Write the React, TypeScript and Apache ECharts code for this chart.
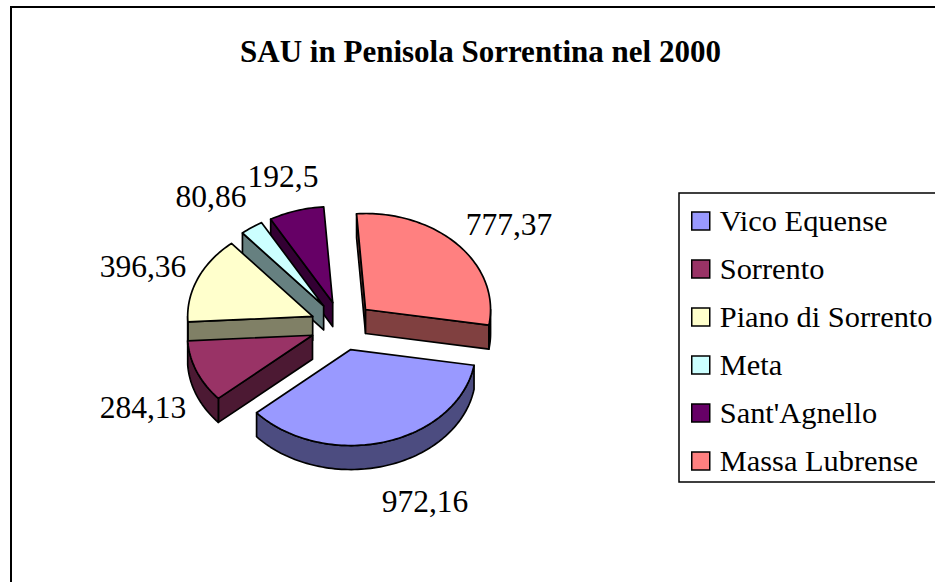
import React, { useEffect, useRef } from "react";
import * as echarts from "echarts";

const title = "SAU in Penisola Sorrentina nel 2000";
const categories = ["Vico Equense", "Sorrento", "Piano di Sorrento", "Meta", "Sant'Agnello", "Massa Lubrense"];
const values = [972.16, 284.13, 396.36, 80.86, 192.5, 777.37];
const valueLabels = ["972,16", "284,13", "396,36", "80,86", "192,5", "777,37"];
const colors = ["#9999FF", "#993366", "#FFFFCC", "#CCFFFF", "#660066", "#FF8080"];
const wallColors = ["#4C4C80", "#4C1933", "#808066", "#668080", "#330033", "#804040"];
const drawOrder = [4, 3, 2, 1, 5, 0];

const CX = 342, CY = 326, RX = 125, RY = 96, DEPTH = 24, EXPLODE = 0.255, START = 99.4;
const FONT = "'Liberation Serif', 'Times New Roman', serif";
const labelCentres: [number, number][] = [[425, 501], [143, 407], [143, 266], [211, 196], [283, 176], [509, 224]];

const total = values.reduce((a, b) => a + b, 0);
const rad = (d: number) => (d * Math.PI) / 180;
const angles = (() => {
  let s = START;
  return values.map((v) => {
    const e = s + (v / total) * 360;
    const r = [s, e];
    s = e;
    return r;
  });
})();

function sliceElements(i: number) {
  const [a0, a1] = angles[i];
  const mid = (a0 + a1) / 2;
  const ax = CX + EXPLODE * RX * Math.sin(rad(mid));
  const ay = CY - EXPLODE * RY * Math.cos(rad(mid));
  const rim = (a: number): [number, number] => [ax + RX * Math.sin(rad(a)), ay - RY * Math.cos(rad(a))];
  const down = (p: [number, number]): [number, number] => [p[0], p[1] + DEPTH];
  const arc = (f: number, t: number) => {
    const n = Math.max(1, Math.ceil((t - f) / 1.5));
    const pts: [number, number][] = [];
    for (let k = 0; k <= n; k++) pts.push(rim(f + ((t - f) * k) / n));
    return pts;
  };
  const stroke = { stroke: "#000", lineWidth: 1.7, lineJoin: "round" };
  const children: any[] = [];
  const m = rim(mid);
  const apex: [number, number] = [ax, ay];
  for (const a of [a0, a1]) {
    const r = rim(a);
    const ex = r[0] - ax, ey = r[1] - ay;
    const crossDown = ex;
    const crossMid = ex * (m[1] - ay) - ey * (m[0] - ax);
    if (crossDown * crossMid < 0) {
      children.push({
        type: "polygon",
        shape: { points: [apex, r, down(r), down(apex)] },
        style: { fill: wallColors[i], ...stroke },
      });
    }
  }
  for (const base of [0, 360]) {
    const f = Math.max(a0, 90 + base), t = Math.min(a1, 270 + base);
    if (t > f) {
      const top = arc(f, t);
      children.push({
        type: "polygon",
        shape: { points: [...top, ...top.slice().reverse().map(down)] },
        style: { fill: wallColors[i], ...stroke },
      });
    }
  }
  children.push({
    type: "polygon",
    shape: { points: [apex, ...arc(a0, a1)] },
    style: { fill: colors[i], ...stroke },
  });
  children.push({
    type: "text",
    style: {
      x: labelCentres[i][0],
      y: labelCentres[i][1],
      text: valueLabels[i],
      fill: "#000",
      font: `31.5px ${FONT}`,
      align: "center",
      verticalAlign: "middle",
    },
  });
  return { type: "group", children };
}

export default function App() {
  const ref = useRef<HTMLDivElement>(null);
  useEffect(() => {
    document.body.style.margin = "0";
    const chart = echarts.init(ref.current!, undefined, { renderer: "svg" });
    chart.setOption({
      animation: false,
      backgroundColor: "#fff",
      title: {
        text: title,
        left: 475.5,
        top: 31,
        textAlign: "center",
        textStyle: { fontFamily: FONT, fontWeight: "bold", fontSize: 31, color: "#000" },
      },
      legend: {
        data: categories.map((name, i) => ({ name, itemStyle: { color: colors[i] } })),
        orient: "vertical",
        left: 691,
        top: 205,
        padding: 0,
        selectedMode: false,
        icon: "rect",
        itemWidth: 18,
        itemHeight: 18,
        itemGap: 16,
        itemStyle: { borderColor: "#000", borderWidth: 1.5 },
        textStyle: { fontFamily: FONT, fontSize: 30.4, color: "#000", padding: [0, 0, 0, 5], height: 32, lineHeight: 32 },
      },
      graphic: [
        { type: "rect", z: -1, shape: { x: 11, y: 7, width: 1000, height: 700 }, style: { fill: "none", stroke: "#000", lineWidth: 2 } },
        { type: "rect", z: -1, shape: { x: 679, y: 193, width: 300, height: 289 }, style: { fill: "none", stroke: "#000", lineWidth: 1.5 } },
      ],
      series: categories.map((name, i) => ({
        type: "custom",
        name,
        coordinateSystem: "none",
        z: 2 + drawOrder.indexOf(i),
        itemStyle: { color: colors[i] },
        data: [values[i]],
        renderItem: () => sliceElements(i),
      })),
    });
    return () => chart.dispose();
  }, []);
  return <div ref={ref} style={{ position: "fixed", left: 0, top: 0, width: 935, height: 582 }} />;
}
